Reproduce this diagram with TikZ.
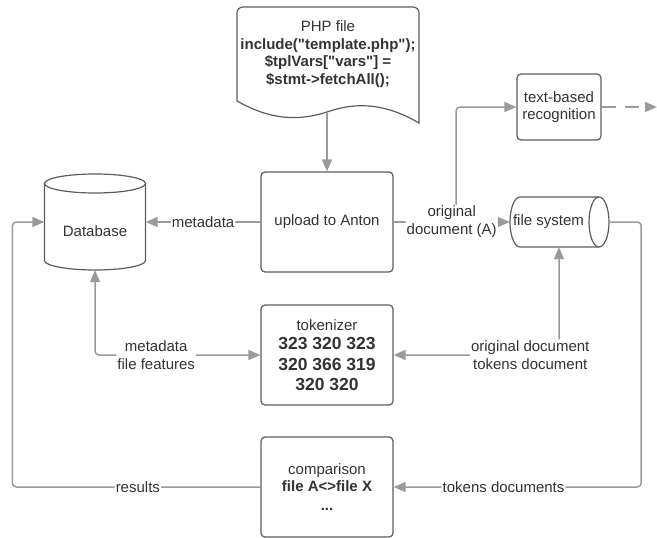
\documentclass[tikz,border=0pt]{standalone}
\usepackage{fontspec}
\setmainfont{Liberation Sans}[Ligatures=TeXOff]
\usetikzlibrary{arrows.meta}
\definecolor{linegray}{HTML}{9A9A9A}
\definecolor{edgegray}{HTML}{5C5C5C}
\definecolor{txtgray}{HTML}{333333}
\newcommand\numfont{\bfseries\fontsize{17.5}{21}\selectfont}

\begin{document}
\begin{tikzpicture}[x=1pt,y=1pt,>={Triangle[length=12pt,width=10pt]},
    box/.style={draw=edgegray,line width=1.2pt,rounded corners=4pt,text=txtgray,
      align=center,inner sep=0pt,font=\fontsize{15}{17.5}\selectfont},
    txt/.style={text=txtgray,align=center,inner sep=0pt,font=\fontsize{15}{17.5}\selectfont},
    conn/.style={draw=linegray,line width=1.5pt,rounded corners=4pt,->},
    lbl/.style={fill=white,text=txtgray,align=center,inner sep=1pt,
      font=\fontsize{15}{18}\selectfont}]
  \useasboundingbox (0,0) rectangle (657,-538);
  \foreach \n/\y in {up/222,tok/355,cmp/487}{
    \coordinate (c\n) at (327,-\y);
  }
  % php document
  \draw[edgegray,line width=1.2pt] (237,-101) [rounded corners=6pt] -- (237,-7)
    -- (419,-7) [sharp corners] -- (419,-123)
    .. controls (380,-100) and (350,-104) .. (327,-112)
    .. controls (290,-124) and (262,-115) .. cycle;
  \node[txt] (php) at (328,-54) {PHP file\\\bfseries include("template.php");\\
    \bfseries \$tplVars["vars"] =\\\bfseries \$stmt->fetchAll();};
  \coordinate (phpb) at (327,-112);
  % database
  \draw[edgegray,line width=1.2pt] (95,-183.5) ellipse[x radius=50.5,y radius=9.5];
  \draw[edgegray,line width=1.2pt] (44.5,-183.5) -- (44.5,-260.5)
    arc[start angle=180,end angle=360,x radius=50.5,y radius=9.5] -- (145.5,-183.5);
  \node[txt,minimum width=101,minimum height=96,text height=29pt,text depth=0pt] (db) at (95,-222) {Database};
  % file system
  \draw[edgegray,line width=1.2pt] (599,-197) -- (520,-197)
    arc[start angle=90,end angle=270,x radius=10,y radius=25] -- (599,-247);
  \draw[edgegray,line width=1.2pt] (599,-222) ellipse[x radius=10,y radius=25];
  \node[txt,minimum width=77,minimum height=50] (fs) at (548.5,-222) {file system};
  % boxes
  \node[box,minimum width=132,minimum height=100] (up) at (cup) {upload to Anton};
  \node[box,minimum width=132,minimum height=100] (tok) at (ctok)
    {tokenizer\\[2pt]\numfont 323 320 323\\[3pt]\numfont 320 366 319\\[3pt]\numfont 320 320};
  \node[box,minimum width=132,minimum height=100] (cmp) at (ccmp)
    {comparison\\\bfseries file A<>file X\\[1.5pt]\bfseries ...};
  \node[box,minimum width=84,minimum height=66,font=\fontsize{15}{17}\selectfont] (tbr) at (559,-107)
    {text-based\\recognition};
  \coordinate (out) at (657,-107);
  \coordinate (split) at (456,-222);
  % connectors
  \draw[conn] (phpb) -- (up);
  \draw[conn] (up) -- node[lbl]{metadata} (db);
  \draw[conn] (split) |- (tbr.west);
  \draw[conn] (up) -- node[lbl]{original\\document (A)} (fs);
  \draw[conn,dash pattern=on 14pt off 9pt] (tbr) -- (out);
  \draw[conn,<->] (db.south) |- node[lbl,pos=0.685]{metadata\\file features} (tok.west);
  \draw[conn,<->] ([xshift=10.5pt]fs.south) |- node[lbl,pos=0.587]{original document\\tokens document} (tok.east);
  \draw[conn] ([xshift=22pt]fs.east) -- ++(32,0) |- node[lbl,pos=0.778]{tokens documents} (cmp.east);
  \draw[conn] (cmp.west) -| node[lbl,pos=0.247]{results} ([xshift=-32pt]db.west) -- (db.west);
\end{tikzpicture}
\end{document}
